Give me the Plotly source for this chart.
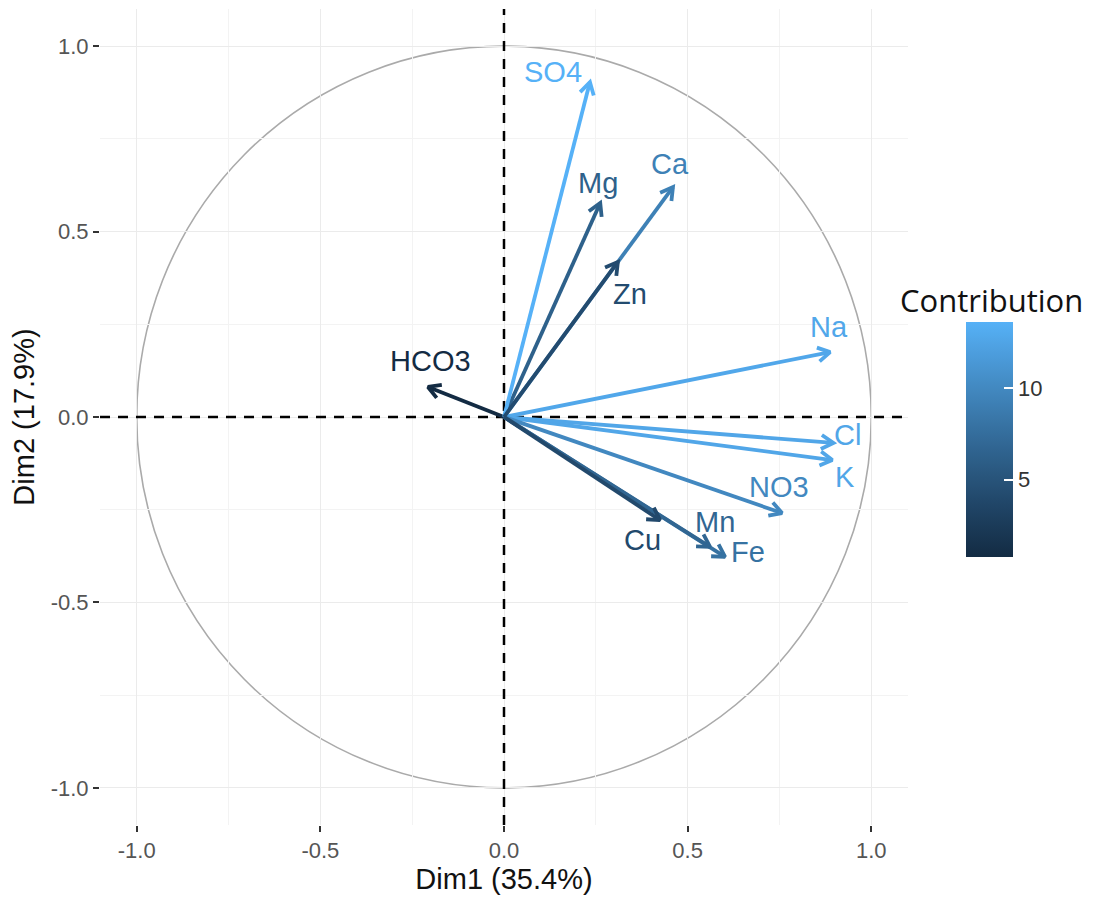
import numpy as np
import plotly.graph_objects as go
from plotly.colors import sample_colorscale

# ---------------- data ----------------
variables = ["Ca", "Mg", "Na", "K", "HCO3", "SO4", "Cl", "NO3", "Fe", "Mn", "Zn", "Cu"]
dim1 = [0.460, 0.262, 0.888, 0.894, -0.207, 0.234, 0.897, 0.757, 0.602, 0.561, 0.310, 0.425]
dim2 = [0.620, 0.577, 0.175, -0.116, 0.081, 0.903, -0.070, -0.259, -0.377, -0.350, 0.418, -0.278]
contrib = [9.3, 6.3, 12.8, 12.7, 0.75, 13.65, 12.7, 10.0, 7.9, 6.8, 4.2, 4.0]

x_title = "Dim1 (35.4%)"
y_title = "Dim2 (17.9%)"
legend_title = "Contribution"
axis_ticks = [-1.0, -0.5, 0.0, 0.5, 1.0]
axis_ticktext = ["-1.0", "-0.5", "0.0", "0.5", "1.0"]
cbar_ticks = [5, 10]

# ---------------- label offsets (pixels, right / down) ----------------
label_dx = [-3, -2, -1, 13, 3, -37, 14, -3, 23, 5, 12, -18]
label_dy = [-23, -20, -25, 17, -26, -10, -8, -26, -5, -25, 32, 20]

# ---------------- ggplot-like Lab gradient ----------------
def _hex2rgb(h):
    h = h.lstrip("#")
    return [int(h[i:i + 2], 16) / 255 for i in (0, 2, 4)]

def _to_lab(rgb):
    lin = [c / 12.92 if c <= 0.04045 else ((c + 0.055) / 1.055) ** 2.4 for c in rgb]
    M = np.array([[0.4124564, 0.3575761, 0.1804375],
                  [0.2126729, 0.7151522, 0.0721750],
                  [0.0193339, 0.1191920, 0.9503041]])
    X, Y, Z = M @ np.array(lin)
    wn = (0.95047, 1.0, 1.08883)
    def f(t):
        return t ** (1 / 3) if t > (6 / 29) ** 3 else t / (3 * (6 / 29) ** 2) + 4 / 29
    fx, fy, fz = f(X / wn[0]), f(Y / wn[1]), f(Z / wn[2])
    return np.array([116 * fy - 16, 500 * (fx - fy), 200 * (fy - fz)])

def _from_lab(lab):
    L, a, b = lab
    fy = (L + 16) / 116
    fx = fy + a / 500
    fz = fy - b / 200
    def finv(t):
        return t ** 3 if t > 6 / 29 else 3 * (6 / 29) ** 2 * (t - 4 / 29)
    wn = (0.95047, 1.0, 1.08883)
    XYZ = np.array([wn[0] * finv(fx), wn[1] * finv(fy), wn[2] * finv(fz)])
    Minv = np.array([[3.2404542, -1.5371385, -0.4985314],
                     [-0.9692660, 1.8760108, 0.0415560],
                     [0.0556434, -0.2040259, 1.0572252]])
    lin = Minv @ XYZ
    out = []
    for c in lin:
        c = min(max(c, 0), 1)
        c = 12.92 * c if c <= 0.0031308 else 1.055 * c ** (1 / 2.4) - 0.055
        out.append(int(round(min(max(c, 0), 1) * 255)))
    return "rgb({},{},{})".format(*out)

low, high = _to_lab(_hex2rgb("#132B43")), _to_lab(_hex2rgb("#56B1F7"))
colorscale = [[t, _from_lab(low + (high - low) * t)] for t in np.linspace(0, 1, 21)]

cmin, cmax = min(contrib), max(contrib)
colors = sample_colorscale(colorscale, [(c - cmin) / (cmax - cmin) for c in contrib])

# ---------------- geometry (page body has an 8px margin) ----------------
OFF = 8
W, H = 1096 - OFF, 899 - OFF
margin = dict(l=100 - OFF, r=188, t=9 - OFF, b=74)
PW = W - margin["l"] - margin["r"]
PH = H - margin["t"] - margin["b"]
xr = [-1.1, 1.1]
yr = [-1.1, 1.1]
sx = PW / (xr[1] - xr[0])
sy = PH / (yr[1] - yr[0])
head_len = 14
head_ang = np.deg2rad(30)

def px2paper_x(abs_x):
    return (abs_x - OFF - margin["l"]) / PW

def px2paper_y(abs_y):
    return (margin["t"] + PH - (abs_y - OFF)) / PH

CB_LEFT, CB_W, CB_CY, CB_LEN = 966, 47, 439.5, 235

fig = go.Figure()

# dashed reference lines through the origin
fig.add_trace(go.Scatter(x=xr, y=[0, 0], mode="lines",
                         line=dict(color="black", width=2.5, dash="10px,8px"),
                         hoverinfo="skip", showlegend=False))
fig.add_trace(go.Scatter(x=[0, 0], y=yr, mode="lines",
                         line=dict(color="black", width=2.5, dash="10px,8px"),
                         hoverinfo="skip", showlegend=False))

for name, x, y, col in zip(variables, dim1, dim2, colors):
    px, py = x * sx, y * sy
    ang = np.arctan2(py, px)
    wings = []
    for s in (1, -1):
        a = ang + np.pi + s * head_ang
        wings.append((x + head_len * np.cos(a) / sx, y + head_len * np.sin(a) / sy))
    xs = [0, x, None, wings[0][0], x, wings[1][0]]
    ys = [0, y, None, wings[0][1], y, wings[1][1]]
    fig.add_trace(go.Scatter(x=xs, y=ys, mode="lines",
                             line=dict(color=col, width=3.8),
                             hoverinfo="skip", showlegend=False))

# invisible trace carrying the colour bar
fig.add_trace(go.Scatter(
    x=dim1, y=dim2, mode="markers", text=variables,
    marker=dict(size=1, opacity=0, color=contrib, colorscale=colorscale,
                cmin=cmin, cmax=cmax, showscale=True,
                colorbar=dict(
                    thickness=CB_W, thicknessmode="pixels",
                    len=CB_LEN, lenmode="pixels",
                    x=px2paper_x(CB_LEFT), xanchor="left", xpad=0,
                    y=px2paper_y(CB_CY), yanchor="middle", ypad=0,
                    outlinewidth=0,
                    tickvals=cbar_ticks, ticktext=[str(v) for v in cbar_ticks],
                    ticks="inside", ticklen=9, tickcolor="white", tickwidth=1.5,
                    tickfont=dict(family="Liberation Sans, Arial", size=22, color="#333333"),
                )),
    showlegend=False, hoverinfo="text"))

# white tick marks on the left edge of the colour bar (ggplot style)
for v in cbar_ticks:
    yabs = CB_CY + CB_LEN / 2 - (v - cmin) / (cmax - cmin) * CB_LEN
    fig.add_shape(type="line", xref="paper", yref="paper",
                  x0=px2paper_x(CB_LEFT), x1=px2paper_x(CB_LEFT + 9),
                  y0=px2paper_y(yabs), y1=px2paper_y(yabs),
                  line=dict(color="white", width=1.5), layer="above")

# labels
for name, x, y, col, dx, dy in zip(variables, dim1, dim2, colors, label_dx, label_dy):
    fig.add_annotation(x=x, y=y, xref="x", yref="y", text=name, showarrow=False,
                       xshift=dx, yshift=-dy,
                       font=dict(family="Liberation Sans, Arial", size=29, color=col))

fig.add_annotation(x=px2paper_x(991), y=px2paper_y(300),
                   xref="paper", yref="paper", text=legend_title, showarrow=False,
                   xanchor="center", yanchor="middle",
                   font=dict(family="Open Sans, Noto Sans", size=31, color="#111111"))

# correlation circle
fig.add_shape(type="circle", xref="x", yref="y", x0=-1, y0=-1, x1=1, y1=1,
              line=dict(color="#AAAAAA", width=1.6), layer="below")

axis_common = dict(
    tickvals=axis_ticks, ticktext=axis_ticktext,
    showgrid=True, gridcolor="#EBEBEB", gridwidth=1.3,
    minor=dict(dtick=0.25, tick0=0, showgrid=True, gridcolor="#F3F3F3", gridwidth=1.2),
    zeroline=False, showline=False,
    ticks="outside", ticklen=6, tickwidth=2, tickcolor="#333333",
    tickfont=dict(family="Liberation Sans, Arial", size=22, color="#555555"),
)

fig.update_xaxes(range=xr, title=dict(text=x_title, standoff=6,
                 font=dict(family="Liberation Sans, Arial", size=29, color="#111111")),
                 **axis_common)
fig.update_yaxes(range=yr, title=dict(text=y_title, standoff=10,
                 font=dict(family="Liberation Sans, Arial", size=29, color="#111111")),
                 **axis_common)

fig.update_layout(width=W, height=H, margin=margin,
                  plot_bgcolor="white", paper_bgcolor="white")

fig.write_html("out.html")
